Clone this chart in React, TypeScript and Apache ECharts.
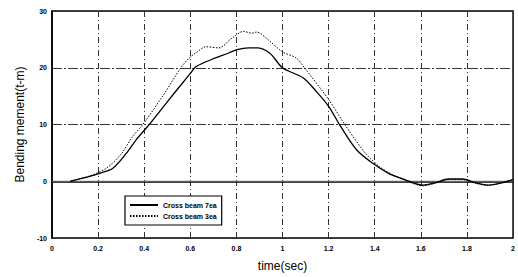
import React, { useEffect, useRef } from "react";
import * as echarts from "echarts";

const seriesNames = ["Cross beam 7ea", "Cross beam 3ea"];

const time7 = [0.08, 0.107, 0.16, 0.207, 0.264, 0.322, 0.365, 0.422, 0.5, 0.56, 0.6, 0.625, 0.695, 0.767, 0.803, 0.853, 0.888, 0.944, 1.0, 1.09, 1.147, 1.2, 1.25, 1.32, 1.39, 1.46, 1.53, 1.61, 1.66, 1.72, 1.78, 1.84, 1.89, 1.95, 2.0];
const moment7 = [0, 0.3, 0.8, 1.4, 2.3, 4.9, 7.3, 10, 14.0, 17.0, 19.0, 20.2, 21.5, 22.6, 23.2, 23.5, 23.5, 22.6, 20, 18.2, 15.8, 13.2, 9.8, 5.6, 3.2, 1.4, 0.3, -0.7, -0.3, 0.4, 0.4, -0.3, -0.7, -0.3, 0.3];

const time3 = [0.08, 0.107, 0.16, 0.236, 0.3, 0.35, 0.394, 0.48, 0.559, 0.595, 0.63, 0.667, 0.724, 0.78, 0.83, 0.868, 0.888, 0.93, 1.0, 1.06, 1.095, 1.2, 1.275, 1.36, 1.42, 1.47, 1.53, 1.61, 1.66, 1.72, 1.78, 1.84, 1.89, 1.95, 2.0];
const moment3 = [0, 0.3, 0.9, 2.3, 4.8, 7.9, 10, 15, 20, 21.7, 22.8, 23.7, 23.5, 25.2, 26.4, 26.1, 26.3, 25.2, 22.8, 21.7, 20, 14.4, 9.7, 4.9, 2.6, 1.3, 0.2, -0.8, -0.4, 0.3, 0.3, -0.4, -0.7, -0.3, 0.3];

const xTicks = [0, 0.2, 0.4, 0.6, 0.8, 1, 1.2, 1.4, 1.6, 1.8, 2];
const yTicks = [-10, 0, 10, 20, 30];

export default function App() {
  const ref = useRef<HTMLDivElement>(null);
  useEffect(() => {
    const chart = echarts.init(ref.current!, undefined, { renderer: "svg" });
    const font = "Liberation Sans, Arial, sans-serif";
    chart.setOption({
      animation: false,
      backgroundColor: "#fff",
      grid: {
        left: 52,
        right: 2,
        top: 11,
        bottom: 38,
        show: true,
        borderColor: "#000",
        borderWidth: 1.5,
      },
      legend: {
        orient: "vertical",
        left: 125,
        top: 196,
        itemWidth: 28,
        itemHeight: 10,
        itemGap: 3,
        padding: [5, 5, 5, 4],
        borderColor: "#000",
        borderWidth: 1.2,
        backgroundColor: "#fff",
        itemStyle: { opacity: 0 },
        textStyle: { fontFamily: font, fontSize: 7, fontWeight: "bold", color: "#000" },
        data: seriesNames,
      },
      xAxis: {
        type: "value",
        min: 0,
        max: 2,
        interval: 0.2,
        name: "time(sec)",
        nameLocation: "middle",
        nameGap: 22,
        nameTextStyle: { fontFamily: font, fontSize: 12, color: "#000" },
        axisLine: { show: true, lineStyle: { color: "#000", width: 1.5 } },
        axisTick: { show: false },
        axisLabel: {
          fontFamily: font,
          fontSize: 7,
          fontWeight: "bold",
          color: "#000",
          margin: 7,
          formatter: (v: number) => {
            const t = xTicks.find((x) => Math.abs(x - v) < 1e-6);
            return t === undefined ? "" : String(t);
          },
        },
        splitLine: { show: true, lineStyle: { color: "#333", width: 1, type: [6, 3, 1, 3] } },
      },
      yAxis: {
        type: "value",
        min: -10,
        max: 30,
        interval: 10,
        name: "Bending mement(t-m)",
        nameLocation: "middle",
        nameGap: 26,
        nameTextStyle: { fontFamily: font, fontSize: 12, color: "#000" },
        axisLine: { show: true, lineStyle: { color: "#000", width: 1.5 } },
        axisTick: { show: false },
        axisLabel: {
          fontFamily: font,
          fontSize: 7,
          fontWeight: "bold",
          color: "#000",
          margin: 5,
          formatter: (v: number) => (yTicks.includes(v) ? String(v) : ""),
        },
        splitLine: { show: true, lineStyle: { color: "#333", width: 1, type: [10, 2, 2, 2] } },
      },
      series: [
        {
          name: seriesNames[0],
          type: "line",
          symbol: "none",
          showSymbol: false,
          smooth: 0.3,
          data: time7.map((t, i) => [t, moment7[i]]),
          lineStyle: { color: "#000", width: 1.3, type: "solid" },
          itemStyle: { color: "#000" },
          z: 3,
        },
        {
          name: seriesNames[1],
          type: "line",
          symbol: "none",
          showSymbol: false,
          smooth: 0.3,
          data: time3.map((t, i) => [t, moment3[i]]),
          lineStyle: { color: "#000", width: 1, type: [1.5, 1.5] },
          itemStyle: { color: "#000" },
          z: 3,
        },
        {
          type: "line",
          symbol: "none",
          showSymbol: false,
          silent: true,
          data: [[0, 0], [2, 0]],
          lineStyle: { color: "#777", width: 1 },
          z: 2,
        },
      ],
    });
    return () => chart.dispose();
  }, []);
  return <div ref={ref} style={{ width: 518, height: 277, position: "absolute", left: 0, top: 0 }} />;
}
